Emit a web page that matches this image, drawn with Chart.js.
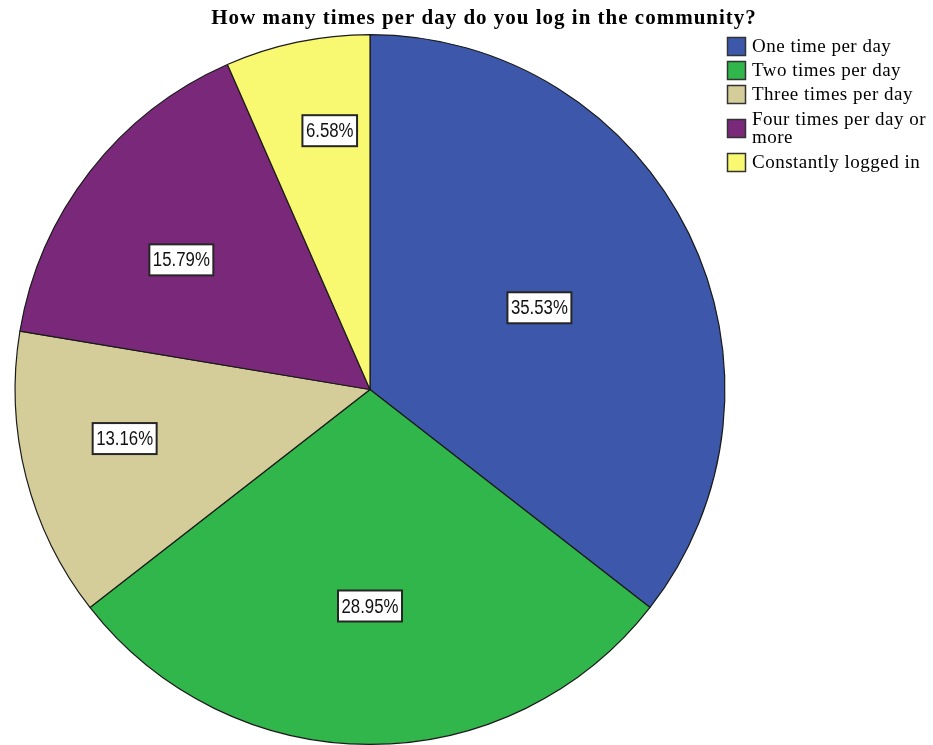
<!DOCTYPE html>
<html>
<head>
<meta charset="utf-8">
<title>Community log-ins per day</title>
<script src="https://cdn.jsdelivr.net/npm/chart.js@4.4.0/dist/chart.umd.min.js"></script>
<style>
  html, body { margin: 0; padding: 0; background: #fff; }
  #wrap { width: 933px; height: 745px; position: relative; }
</style>
</head>
<body>
<div id="wrap"><canvas id="cPie"></canvas></div>
<script>
(function () {
  "use strict";

  // ---- data ----
  var TITLE = "How many times per day do you log in the community?";
  var CATEGORIES = ["One time per day", "Two times per day", "Three times per day",
    "Four times per day or more", "Constantly logged in"];
  var PERCENT = [35.53, 28.95, 13.16, 15.79, 6.58];

  // ---- look ----
  var COLORS = ["#3D58AA", "#30B64A", "#D4CD99", "#7A297A", "#F9F871"];
  // where each value box sits: fraction of the outer radius, and a nudge off the mid-angle (deg)
  var LABEL_RADIUS = [0.53, 0.61, 0.705, 0.645, 0.738];
  var LABEL_NUDGE = [0.3, 0, 2.9, -3.4, 3.0];
  var SERIF = "'Liberation Serif', 'DejaVu Serif', serif";
  var SANS = "'Liberation Sans', 'DejaVu Sans', sans-serif";

  function wrap(ctx, text, maxW) {
    var words = text.split(" "), lines = [], cur = "";
    words.forEach(function (w) {
      var t = cur ? cur + " " + w : w;
      if (cur && ctx.measureText(t).width > maxW) { lines.push(cur); cur = w; } else { cur = t; }
    });
    if (cur) lines.push(cur);
    return lines;
  }

  var decor = {
    id: "decor",
    afterDraw: function (chart) {
      var ctx = chart.ctx, W = chart.width;
      ctx.save();

      // title
      ctx.fillStyle = "#000";
      ctx.font = "bold 21px " + SERIF;
      ctx.letterSpacing = "1px";
      ctx.textAlign = "center";
      ctx.textBaseline = "alphabetic";
      ctx.fillText(TITLE, 484, 24);

      // value boxes (condensed sans)
      var meta = chart.getDatasetMeta(0);
      ctx.letterSpacing = "0px";
      ctx.font = "20px " + SANS;
      ctx.textAlign = "center";
      ctx.textBaseline = "middle";
      var sx = 0.84;
      meta.data.forEach(function (arc, i) {
        var p = arc.getProps(["x", "y", "startAngle", "endAngle", "outerRadius"], true);
        var mid = (p.startAngle + p.endAngle) / 2 + LABEL_NUDGE[i] * Math.PI / 180;
        var r = p.outerRadius * LABEL_RADIUS[i];
        var x = p.x + Math.cos(mid) * r, y = p.y + Math.sin(mid) * r;
        var txt = PERCENT[i].toFixed(2) + "%";
        var w = ctx.measureText(txt).width * sx + 7, h = 31;
        ctx.fillStyle = "#fff";
        ctx.fillRect(x - w / 2, y - h / 2, w, h);
        ctx.strokeStyle = "#262626";
        ctx.lineWidth = 2;
        ctx.strokeRect(x - w / 2, y - h / 2, w, h);
        ctx.fillStyle = "#111";
        ctx.save();
        ctx.translate(x, y + 1);
        ctx.scale(sx, 1);
        ctx.fillText(txt, 0, 0);
        ctx.restore();
      });

      // legend
      var bx = 727, tx = 752, y = 37, box = 19, lh = 18;
      ctx.font = "19px " + SERIF;
      ctx.letterSpacing = "0.5px";
      ctx.textAlign = "left";
      ctx.textBaseline = "middle";
      CATEGORIES.forEach(function (c, i) {
        var lines = wrap(ctx, c, W - tx - 2);
        var blockH = lines.length > 1 ? lines.length * lh + 3 : box;
        var by = y + (blockH - box) / 2;
        ctx.fillStyle = COLORS[i];
        ctx.fillRect(bx, by, box, box);
        ctx.strokeStyle = "#333";
        ctx.lineWidth = 1.5;
        ctx.strokeRect(bx + 0.5, by + 0.5, box - 1, box - 1);
        ctx.fillStyle = "#000";
        var ty = y + blockH / 2 - (lines.length - 1) * lh / 2 + 1;
        lines.forEach(function (ln, k) { ctx.fillText(ln, tx, ty + k * lh); });
        y += blockH + 5;
      });
      ctx.restore();
    }
  };

  new Chart(document.getElementById("cPie"), {
    type: "pie",
    data: {
      labels: CATEGORIES,
      datasets: [{ data: PERCENT, backgroundColor: COLORS, borderColor: "#1b1b1b", borderWidth: 1.2 }]
    },
    options: {
      responsive: true, maintainAspectRatio: false, animation: false,
      layout: { padding: { left: 14, right: 207, top: 34, bottom: 0 } },
      plugins: { legend: { display: false }, tooltip: { enabled: false }, title: { display: false } }
    },
    plugins: [decor]
  });
})();
</script>
</body>
</html>
